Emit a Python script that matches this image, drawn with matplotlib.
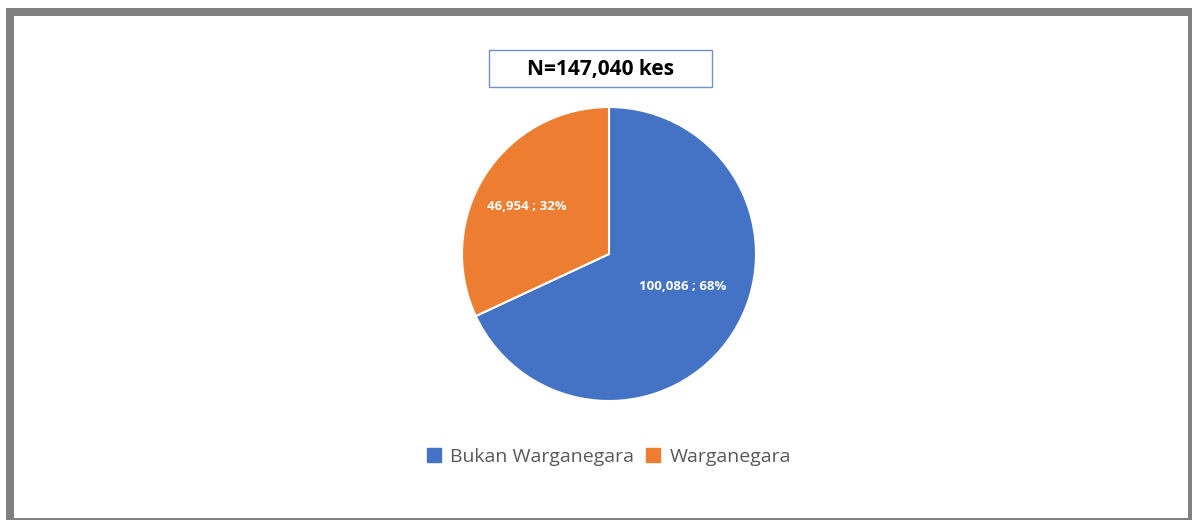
import numpy as np
import matplotlib.pyplot as plt
from matplotlib.patches import Rectangle

labels = ['Bukan Warganegara', 'Warganegara']
values = [100086, 46954]
colors = ['#4472C4', '#ED7D31']
total_label = 'N=147,040 kes'

plt.rcParams['font.family'] = ['Open Sans', 'DejaVu Sans']

fig = plt.figure(figsize=(11.92, 5.20), dpi=100)

# grey frame round the chart (cut off on the right and bottom)
W, H = 1192, 520
fig.patches.append(Rectangle((6 / W, 0), 1 - 6 / W, 1 - 8 / H, transform=fig.transFigure,
                             facecolor='#808080', edgecolor='none', zorder=-2))
fig.patches.append(Rectangle((14 / W, 2 / H), (1188 - 14) / W, (504 - 2) / H, transform=fig.transFigure,
                             facecolor='white', edgecolor='none', zorder=-1))

r_px = 147
ax = fig.add_axes([(609 - r_px) / W, (H - 254 - r_px) / H, 2 * r_px / W, 2 * r_px / H])
ax.set_zorder(1)
wedges, _ = ax.pie(values, colors=colors, startangle=90, counterclock=False,
                   wedgeprops=dict(edgecolor='white', linewidth=1.5))
ax.set_xlim(-1, 1)
ax.set_ylim(-1, 1)
ax.set_aspect('equal')
ax.axis('off')

# data labels
pcts = np.array(values) / sum(values) * 100
label_pos = [(0.50, -0.22), (-0.56, 0.32)]
for v, p, (x, y) in zip(values, pcts, label_pos):
    ax.text(x, y, f'{v:,} ; {p:.0f}%', color='white', fontsize=9.5, fontweight='bold',
            ha='center', va='center')

# title box
fig.patches.append(Rectangle((489 / W, 1 - 87 / H), (712 - 489) / W, 37 / H, transform=fig.transFigure,
                             facecolor='white', edgecolor='#6F8FD0', linewidth=1, zorder=2))
fig.text(600 / W, 1 - 69 / H, total_label, ha='center', va='center', fontsize=15,
         fontweight='bold', color='black', zorder=3)

# legend
handles = [Rectangle((0, 0), 1, 1, color=c) for c in colors]
fig.legend(handles, labels, loc='center', bbox_to_anchor=(609 / W, 1 - 457 / H), ncol=2,
           frameon=False, fontsize=14, handlelength=0.7, handleheight=0.7, handletextpad=0.5,
           columnspacing=0.6, labelcolor='#595959')

fig.savefig('out.png', dpi=100)
